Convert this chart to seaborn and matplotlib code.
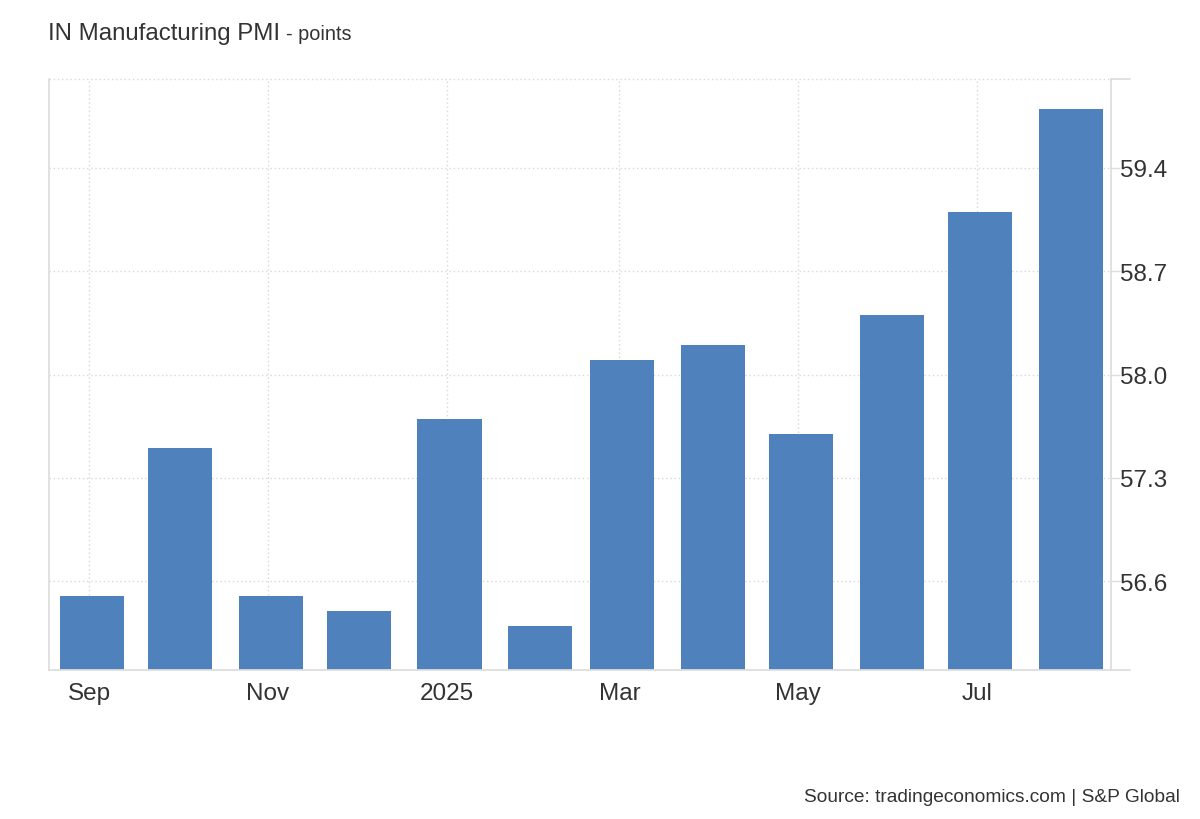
import pandas as pd
import matplotlib
matplotlib.use("Agg")
import matplotlib.pyplot as plt
import matplotlib.dates as mdates
import seaborn as sns

# monthly readings, Sep 2024 - Aug 2025
months = ['2024-09-01', '2024-10-01', '2024-11-01', '2024-12-01',
          '2025-01-01', '2025-02-01', '2025-03-01', '2025-04-01',
          '2025-05-01', '2025-06-01', '2025-07-01', '2025-08-01']
pmi = [56.5, 57.5, 56.5, 56.4, 57.7, 56.3, 58.1, 58.2, 57.6, 58.4, 59.1, 59.8]

tick_dates = ['2024-09-01', '2024-11-01', '2025-01-01', '2025-03-01', '2025-05-01', '2025-07-01']
tick_labels = ['Sep', 'Nov', '2025', 'Mar', 'May', 'Jul']
y_ticks = [56.6, 57.3, 58.0, 58.7, 59.4]

df = pd.DataFrame({'month': pd.to_datetime(months), 'pmi': pmi})
# bars sit about a day after the month gridline in the source chart
df['x'] = mdates.date2num(df['month']) + 1

sns.set_style('white')
plt.rcParams['font.family'] = ['Liberation Sans', 'DejaVu Sans']

text_col = '#333333'
line_col = '#dedede'

fig = plt.figure(figsize=(12, 8.2), dpi=100)
ax = fig.add_axes([49 / 1200, 1 - 671 / 820, (1111 - 49) / 1200, (671 - 80) / 820])

sns.barplot(data=df, x='x', y='pmi', native_scale=True, width=0.78,
            color='#4f81bd', saturation=1, linewidth=0, ax=ax)

# axis limits (half a month of padding each side)
x0 = mdates.date2num(pd.Timestamp('2024-09-01')) - 13.65
x1 = mdates.date2num(pd.Timestamp('2025-08-01')) + 14.7
ax.set_xlim(x0, x1)
ax.set_ylim(56.0, 60.0)

ax.set_xticks(mdates.date2num(pd.to_datetime(tick_dates)))
ax.set_xticklabels(tick_labels)
ax.set_yticks(y_ticks)
ax.set_yticklabels([f'{v:.1f}' for v in y_ticks])
ax.yaxis.tick_right()

ax.tick_params(axis='x', length=0, pad=9, labelsize=17.5, labelcolor=text_col)
ax.tick_params(axis='y', length=6.5, width=1, color=line_col, pad=0,
               labelsize=17.5, labelcolor=text_col)
ax.set_xlabel('')
ax.set_ylabel('')

ax.grid(True, color='#d8d8d8', linestyle=(0, (1, 2)), linewidth=1)
ax.set_axisbelow(True)

for side in ['left', 'right', 'bottom']:
    ax.spines[side].set_color(line_col)
    ax.spines[side].set_linewidth(1.3)
ax.spines['top'].set_visible(False)

# dotted top border, and the short solid stubs past the right edge
ax.plot([0, 1], [1, 1], transform=ax.transAxes, color='#d8d8d8',
        linestyle=(0, (1, 2)), linewidth=1, clip_on=False)
ax.plot([1, 1.018], [1, 1], transform=ax.transAxes, color=line_col,
        linewidth=1.3, clip_on=False)
ax.plot([1, 1.018], [0, 0], transform=ax.transAxes, color=line_col,
        linewidth=1.3, clip_on=False)

fig.text(48 / 1200, 1 - 40 / 820, 'IN Manufacturing PMI', fontsize=17.3,
         color=text_col, va='baseline', ha='left')
fig.text(286 / 1200, 1 - 40 / 820, '- points', fontsize=14.3,
         color=text_col, va='baseline', ha='left')
fig.text(1180 / 1200, 1 - 802 / 820, 'Source: tradingeconomics.com | S&P Global',
         fontsize=13.8, color=text_col, va='baseline', ha='right')

fig.savefig('out.png', dpi=100, facecolor='white')
